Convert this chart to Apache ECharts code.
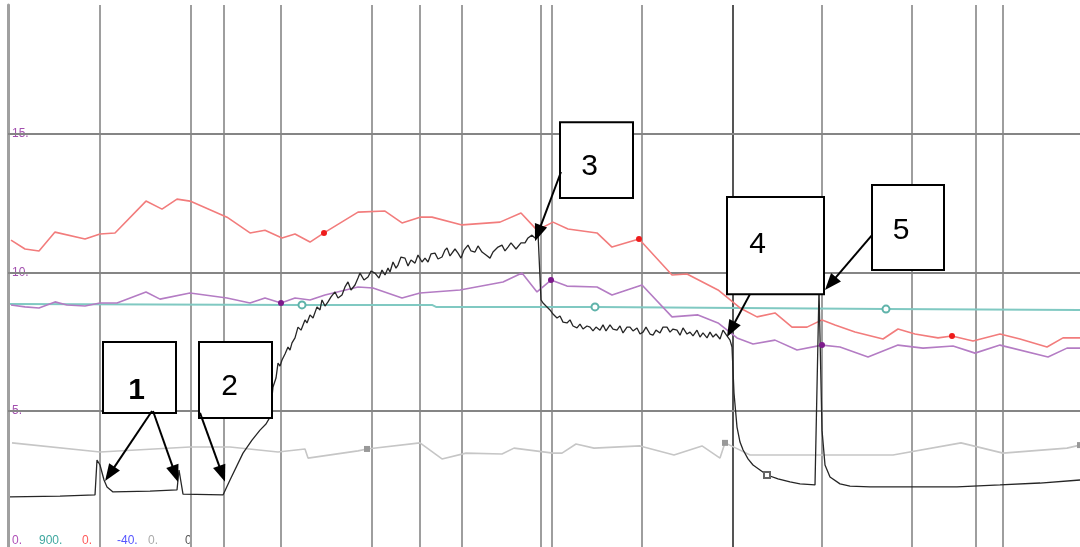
<!DOCTYPE html>
<html>
<head>
<meta charset="utf-8">
<script src="https://cdn.jsdelivr.net/npm/echarts@6/dist/echarts.min.js"></script>
<style>
html, body { margin: 0; padding: 0; background: #fff; }
#chart { width: 1080px; height: 547px; }
</style>
</head>
<body>
<div id="chart"></div>
<script>
// recorder trace, x = seconds from start
var eventTimes = [92, 183, 216, 273, 364, 412, 454, 533, 544, 634, 725, 814, 904, 968, 995];
var levels = [5, 10, 15];
var axisMins = ['0.', '900.', '0.', '-40.', '0.', '0'];

var red = [[3, 11.17], [17, 10.85], [31, 10.78], [47, 11.46], [77, 11.21], [92, 11.39], [107, 11.43],
    [138, 12.58], [154, 12.29], [169, 12.65], [182, 12.58], [219, 12.00], [242, 11.43], [257, 11.53],
    [274, 11.25], [287, 11.39], [302, 11.10], [316, 11.43], [350, 12.18], [377, 12.22], [394, 11.79],
    [412, 12.00], [424, 12.00], [454, 11.72], [492, 11.82], [513, 12.15], [529, 11.53], [545, 11.82],
    [560, 11.57], [589, 11.43], [604, 10.92], [631, 11.21], [664, 9.91], [679, 9.95], [710, 9.37],
    [732, 8.72], [749, 8.40], [767, 8.54], [784, 8.03], [799, 8.03], [814, 8.29], [827, 8.11],
    [847, 7.85], [875, 7.60], [890, 7.96], [907, 7.78], [930, 7.64], [944, 7.71], [965, 7.53],
    [992, 7.78], [1012, 7.60], [1039, 7.31], [1055, 7.64], [1072, 7.64]];
var redMarks = [316, 631, 944];

var purple = [[3, 8.83], [17, 8.76], [31, 8.72], [47, 8.94], [59, 8.83], [77, 8.79], [92, 8.90],
    [109, 8.90], [138, 9.30], [152, 9.04], [182, 9.26], [219, 9.08], [242, 8.90], [257, 9.08],
    [273, 8.90], [287, 9.08], [302, 9.01], [317, 9.19], [350, 9.48], [365, 9.44], [394, 9.08],
    [412, 9.26], [452, 9.37], [495, 9.66], [514, 9.98], [529, 9.30], [543, 9.73], [559, 9.51],
    [589, 9.48], [604, 9.19], [634, 9.55], [664, 8.40], [690, 8.47], [710, 8.18], [729, 7.64],
    [745, 7.42], [767, 7.56], [789, 7.20], [814, 7.38], [832, 7.31], [860, 6.95], [890, 7.38],
    [915, 7.27], [945, 7.35], [967, 7.09], [992, 7.38], [1040, 6.95], [1059, 7.27], [1072, 7.27]];
var purpleMarks = [273, 543, 814];

var teal = [[2, 8.86], [294, 8.83], [424, 8.83], [428, 8.76], [587, 8.76], [732, 8.72], [878, 8.68], [1072, 8.65]];
var tealMarks = [294, 587, 878];

var grey = [[4, 3.85], [92, 3.52], [182, 3.70], [222, 3.70], [270, 3.52], [297, 3.63], [300, 3.30],
    [350, 3.56], [359, 3.63], [412, 3.85], [434, 3.27], [458, 3.48], [494, 3.45], [506, 3.66],
    [545, 3.48], [554, 3.48], [568, 3.81], [586, 3.66], [632, 3.74], [666, 3.41], [694, 3.74],
    [712, 3.30], [717, 3.85], [728, 3.66], [742, 3.41], [807, 3.41], [885, 3.41], [953, 3.85],
    [995, 3.48], [1059, 3.66], [1072, 3.77]];
var greyMarks = [359, 717, 1072];

var black = [[2, 1.90], [52, 1.93], [87, 1.97], [89, 3.23], [92, 3.05], [96, 2.51], [99, 2.26],
    [105, 2.08], [142, 2.11], [169, 2.15], [171, 2.87], [173, 2.84], [175, 2.00], [215, 1.97],
    [222, 2.51], [235, 3.48], [244, 3.95], [252, 4.31], [258, 4.53], [262, 4.78], [265, 5.87],
    [268, 6.19], [270, 6.73], [272, 6.62], [274, 6.84], [277, 7.06], [280, 7.31], [282, 7.20],
    [284, 7.46], [287, 7.64], [290, 8.03], [293, 7.92], [297, 8.29], [299, 8.18], [302, 8.47],
    [305, 8.36], [309, 8.76], [312, 8.65], [314, 9.01], [317, 8.79], [320, 8.94], [323, 9.12],
    [327, 9.30], [330, 9.08], [334, 9.19], [337, 9.48], [340, 9.66], [343, 9.37], [347, 9.55],
    [350, 9.80], [352, 9.98], [356, 9.73], [360, 9.84], [363, 10.05], [367, 9.98], [371, 9.80],
    [374, 10.09], [377, 9.91], [380, 10.16], [382, 10.02], [385, 10.38], [388, 10.16], [390, 10.27],
    [393, 10.56], [397, 10.52], [400, 10.24], [403, 10.45], [407, 10.34], [410, 10.63], [414, 10.38],
    [417, 10.52], [420, 10.38], [423, 10.67], [427, 10.70], [430, 10.49], [434, 10.56], [437, 10.81],
    [439, 10.89], [442, 10.60], [444, 10.63], [447, 10.85], [450, 10.70], [453, 10.52], [456, 10.81],
    [460, 10.99], [463, 10.78], [467, 10.74], [470, 10.96], [474, 10.74], [478, 10.63], [482, 10.52],
    [485, 10.74], [487, 10.81], [490, 10.92], [494, 10.99], [497, 10.78], [500, 10.92], [503, 11.07],
    [505, 11.10], [508, 10.85], [510, 10.89], [513, 11.07], [517, 11.07], [520, 11.25], [524, 11.35],
    [527, 11.25], [530, 11.43], [532, 11.39], [533, 9.01], [535, 8.90], [538, 8.79], [542, 8.65],
    [545, 8.50], [549, 8.36], [552, 8.43], [555, 8.21], [559, 8.18], [562, 8.29], [565, 8.07],
    [569, 8.00], [572, 8.14], [575, 7.96], [579, 8.07], [582, 8.03], [585, 7.89], [588, 8.03],
    [592, 7.92], [595, 8.11], [598, 7.89], [602, 8.11], [605, 7.96], [609, 7.92], [612, 8.07],
    [615, 7.82], [619, 8.03], [622, 8.03], [625, 7.89], [629, 8.00], [632, 7.78], [635, 7.85],
    [638, 8.03], [642, 7.78], [645, 7.74], [648, 7.92], [652, 7.82], [655, 8.03], [659, 8.03],
    [662, 7.85], [665, 7.96], [669, 7.92], [672, 7.74], [675, 8.00], [679, 7.78], [682, 7.85],
    [685, 7.71], [689, 7.92], [692, 7.67], [695, 7.82], [699, 7.64], [702, 7.85], [705, 7.67],
    [708, 7.78], [712, 7.60], [715, 7.92], [719, 7.71], [722, 7.56], [724, 7.31], [726, 5.65],
    [729, 4.42], [732, 3.88], [735, 3.60], [740, 3.27], [745, 3.05], [752, 2.87], [759, 2.69],
    [770, 2.55], [782, 2.44], [792, 2.37], [807, 2.33], [811, 9.37], [814, 4.31], [817, 3.05],
    [822, 2.62], [832, 2.37], [842, 2.29], [862, 2.26], [949, 2.26], [992, 2.33], [1032, 2.40],
    [1072, 2.51]];
var blackMarks = [759];

function marked(points, marks, sym) {
    return points.map(function (p) {
        return marks.indexOf(p[0]) >= 0 ? { value: p, symbol: sym } : p;
    });
}

var chart = echarts.init(document.getElementById('chart'));

var option = {
    animation: false,
    backgroundColor: '#fff',
    textStyle: { fontFamily: 'Liberation Sans' },
    grid: { left: 8, right: 0, top: 5, bottom: 0 },
    xAxis: { type: 'value', min: 0, max: 1072, show: false },
    yAxis: {
        type: 'value',
        min: 0.09,
        max: 19.66,
        axisLine: { show: true, lineStyle: { color: '#a0a0a0', width: 3 } },
        axisTick: { show: false },
        splitLine: { show: false },
        axisLabel: {
            inside: true,
            margin: 4,
            customValues: levels,
            formatter: function (v) { return v + '.'; },
            color: '#a24fae',
            fontSize: 12
        }
    },
    graphic: axisMins.map(function (t, i) {
        var xs = [12, 39, 82, 117, 148, 185];
        var cs = ['#b050b8', '#40a8a0', '#ff5a5a', '#5555ff', '#aaaaaa', '#555555'];
        return {
            type: 'text', x: xs[i], y: 541,
            style: { text: t, fill: cs[i], font: '12px "Liberation Sans"', verticalAlign: 'middle' }
        };
    }),
    series: [
        {
            // chart recorder grid
            type: 'line',
            data: [],
            silent: true,
            markLine: {
                silent: true,
                z: 1,
                symbol: ['none', 'none'],
                label: { show: false },
                lineStyle: { color: '#9e9e9e', width: 2, type: 'solid' },
                data: eventTimes.map(function (t) {
                    return t === 725 ? { xAxis: t, lineStyle: { color: '#555', width: 2 } } : { xAxis: t };
                }).concat(levels.map(function (v) {
                    return { yAxis: v, lineStyle: { color: '#858585', width: 2 } };
                }))
            }
        },
        {
            type: 'line', data: marked(teal, tealMarks, 'emptyCircle'),
            symbol: 'none', symbolSize: 7, silent: true,
            lineStyle: { color: '#80c9c2', width: 2 },
            itemStyle: { color: '#5fb3aa' }
        },
        {
            type: 'line', data: marked(purple, purpleMarks, 'circle'),
            symbol: 'none', symbolSize: 6, silent: true,
            lineStyle: { color: '#b47cc4', width: 1.6 },
            itemStyle: { color: '#7d1a8c' }
        },
        {
            type: 'line', data: marked(red, redMarks, 'circle'),
            symbol: 'none', symbolSize: 6, silent: true,
            lineStyle: { color: '#f27c7c', width: 1.6 },
            itemStyle: { color: '#ee1c1c' }
        },
        {
            type: 'line', data: marked(grey, greyMarks, 'rect'),
            symbol: 'none', symbolSize: 6, silent: true,
            lineStyle: { color: '#c6c6c6', width: 1.6 },
            itemStyle: { color: '#999' }
        },
        {
            type: 'line', data: marked(black, blackMarks, 'emptyRect'),
            symbol: 'none', symbolSize: 6, silent: true,
            lineStyle: { color: '#262626', width: 1.3 },
            itemStyle: { color: '#666' }
        },
        {
            // numbered callouts
            type: 'line',
            data: [],
            silent: true,
            markArea: {
                silent: true,
                z: 10,
                itemStyle: { color: '#fff', borderColor: '#000', borderWidth: 2 },
                label: {
                    show: true, position: 'inside', formatter: '{b}',
                    color: '#000', fontSize: 30, fontFamily: 'Liberation Sans'
                },
                data: [
                    [{ name: '1', coord: [95, 7.49], label: { offset: [-3, 13], fontWeight: 'bold' } }, { coord: [168, 4.93] }],
                    [{ name: '2', coord: [191, 7.49], label: { offset: [-6, 7] } }, { coord: [264, 4.75] }],
                    [{ name: '3', coord: [552, 15.43], label: { offset: [-7, 7] } }, { coord: [625, 12.69] }],
                    [{ name: '4', coord: [719, 12.73], label: { offset: [-18, -1] } }, { coord: [816, 9.22] }],
                    [{ name: '5', coord: [864, 13.16], label: { offset: [-7, 3] } }, { coord: [936, 10.09] }]
                ]
            },
            markLine: {
                silent: true,
                z: 11,
                symbol: ['none', 'triangle'],
                symbolSize: [13, 17],
                label: { show: false },
                lineStyle: { color: '#000', width: 2, type: 'solid' },
                data: [
                    [{ coord: [144, 5.00] }, { coord: [101.8, 2.73] }],
                    [{ coord: [145, 5.00] }, { coord: [167.2, 2.73] }],
                    [{ coord: [192, 4.93] }, { coord: [214.1, 2.73] }],
                    [{ coord: [553, 13.63] }, { coord: [530.0, 11.42] }],
                    [{ coord: [742, 9.22] }, { coord: [723.0, 7.94] }],
                    [{ coord: [864, 11.35] }, { coord: [822.5, 9.60] }]
                ]
            }
        }
    ]
};

chart.setOption(option);
</script>
</body>
</html>
